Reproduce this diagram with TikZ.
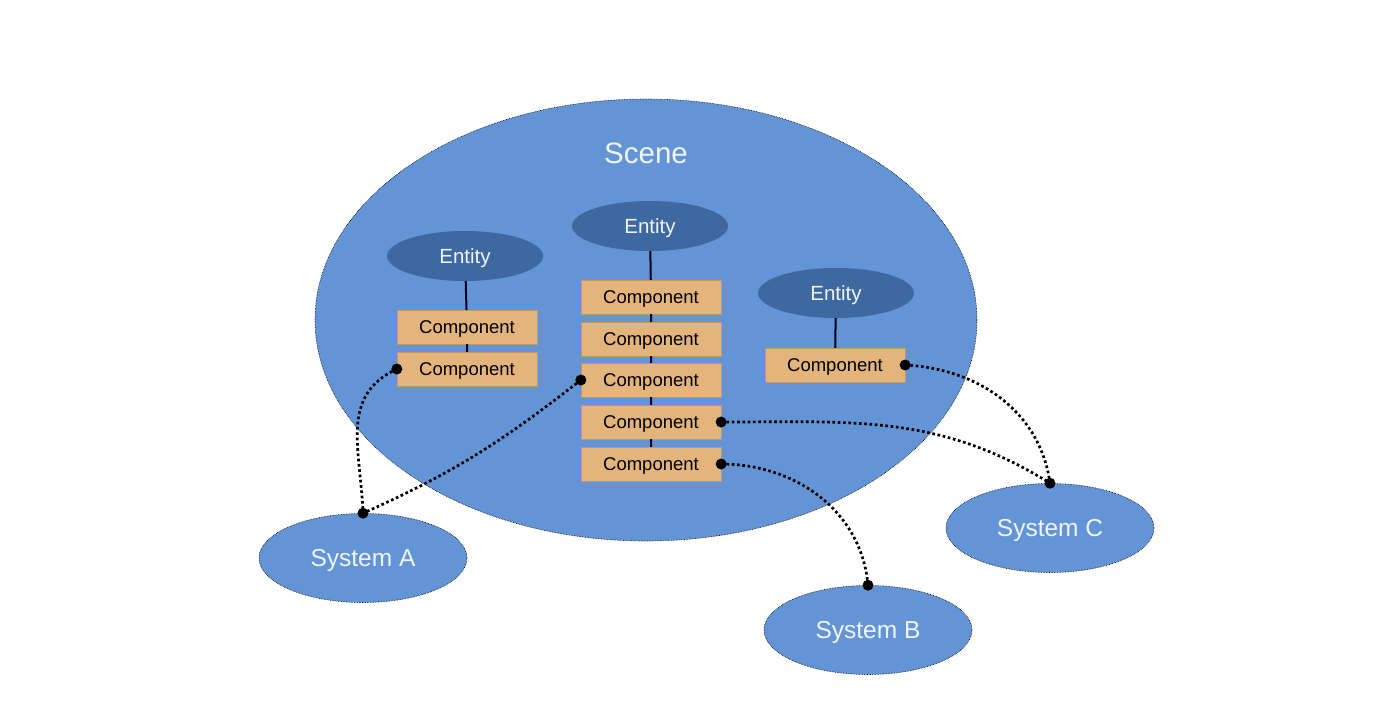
\documentclass[tikz,border=0pt]{standalone}
\usepackage{fontspec}
\setmainfont{Liberation Sans}
\usetikzlibrary{shapes.geometric}

\definecolor{sceneblue}{RGB}{99,148,213}
\definecolor{entityblue}{RGB}{62,104,160}
\definecolor{comptan}{RGB}{227,180,124}
\definecolor{textwhite}{RGB}{240,245,252}

\tikzset{
    entity/.style={shape=ellipse,fill=entityblue,text=textwhite,inner sep=0pt,text depth=0pt,
        minimum width=156pt,minimum height=50pt,font=\fontsize{20.5}{22}\selectfont},
    component/.style={shape=rectangle,fill=comptan,draw=comptan!85!black,line width=0.3pt,inner sep=0pt,
        text depth=0pt,minimum width=140pt,minimum height=34pt,font=\fontsize{18.5}{20}\selectfont},
    system/.style={shape=ellipse,fill=sceneblue,draw=black,densely dotted,line width=0.6pt,
        text=textwhite,inner sep=0pt,text depth=0pt,minimum width=208pt,minimum height=89pt,
        font=\fontsize{24.5}{26}\selectfont},
    link/.style={line width=2pt,black!90!blue},
    dot/.style={shape=circle,fill=black,inner sep=0pt,minimum size=11pt},
    wire/.style={line width=2.7pt,dash pattern=on 2.7pt off 2.6pt}
}

\begin{document}
\begin{tikzpicture}[x=1pt,y=1pt]
        \useasboundingbox[fill=white] (0,0) rectangle (1374,-718);
        % scene
        \node[shape=ellipse,fill=sceneblue,draw=black,densely dotted,line width=0.6pt,
            minimum width=662pt,minimum height=442pt,inner sep=0pt] (scene) at (646,-320) {};
        \node[text=textwhite,font=\fontsize{29.5}{31}\selectfont] (scenelabel) at (646,-153) {Scene};
        % entities
        \node[entity] (E1) at (465,-256) {Entity};
        \node[entity] (E2) at (650,-226) {Entity};
        \node[entity] (E3) at (836,-293) {Entity};
        % components
        \node[component] (C11) at (467,-327) {Component};
        \node[component] (C12) at (467,-369) {Component};
        \node[component] (C21) at (651,-297) {Component};
        \node[component] (C22) at (651,-339) {Component};
        \node[component] (C23) at (651,-380) {Component};
        \node[component] (C24) at (651,-422) {Component};
        \node[component] (C25) at (651,-464) {Component};
        \node[component] (C31) at (835,-365) {Component};
        \draw[link] (E1) -- (C11) -- (C12);
        \draw[link] (E2) -- (C21) -- (C22) -- (C23) -- (C24) -- (C25);
        \draw[link] (E3) -- (C31);
        % systems
        \node[system] (SA) at (363,-558) {System A};
        \node[system] (SB) at (868,-630) {System B};
        \node[system] (SC) at (1050,-528) {System C};
        % dots
        \node[dot] (D12) at (C12.west) {};
        \node[dot] (D23) at (C23.west) {};
        \node[dot] (D24) at (C24.east) {};
        \node[dot] (D25) at (C25.east) {};
        \node[dot] (D31) at (C31.east) {};
        \node[dot] (DA) at (SA.north) {};
        \node[dot] (DB) at (SB.north) {};
        \node[dot] (DC) at (SC.north) {};
        % links to systems
        \draw[wire] (D12.center) to[out=205,in=92,looseness=1.1] (DA.center);
        \draw[wire] (D23.center) to[out=218,in=24] (DA.center);
        \draw[wire] (D24.center) to[out=0,in=148] (DC.center);
        \draw[wire] (D31.center) to[out=-3,in=98] (DC.center);
        \draw[wire] (D25.center) to[out=0,in=95] (DB.center);
    \end{tikzpicture}
\end{document}
